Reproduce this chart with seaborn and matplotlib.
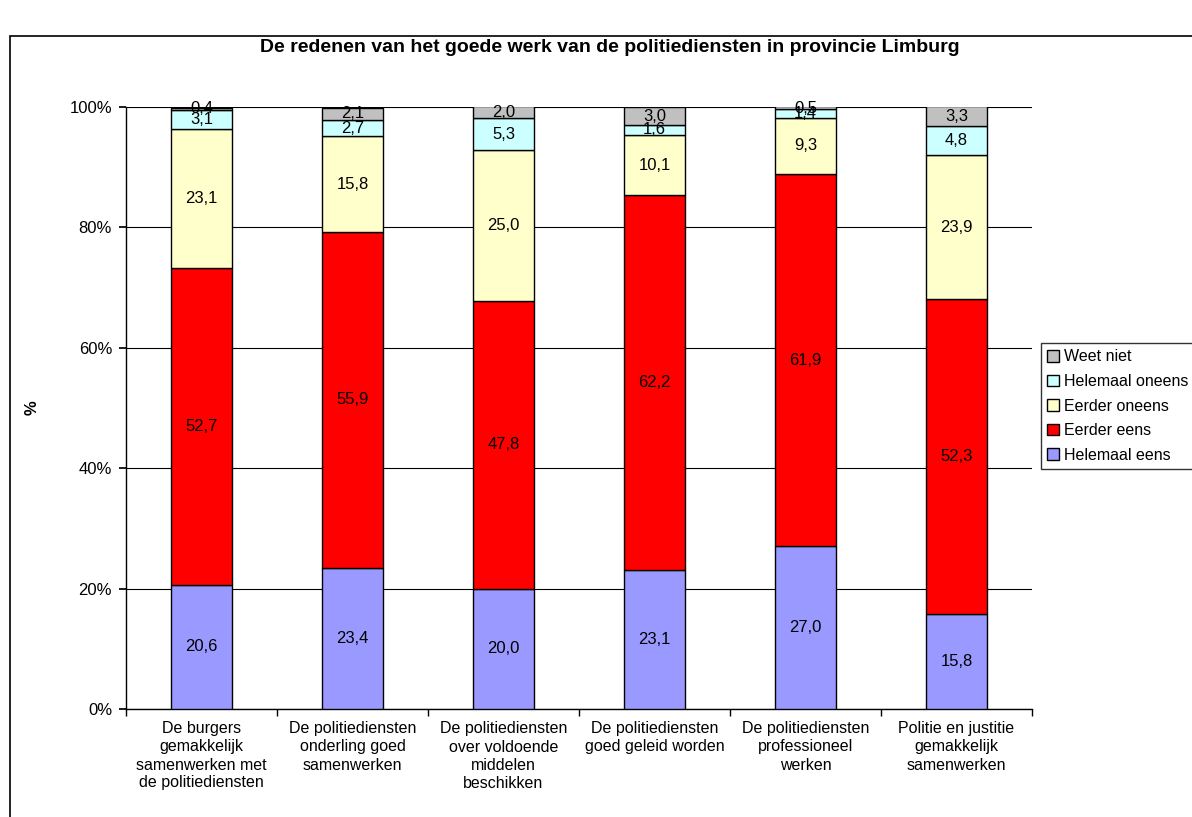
import numpy as np
import pandas as pd
import seaborn as sns
import matplotlib.pyplot as plt
from matplotlib.patches import Rectangle, Patch

categories = [
    "De burgers\ngemakkelijk\nsamenwerken met\nde politiediensten",
    "De politiediensten\nonderling goed\nsamenwerken",
    "De politiediensten\nover voldoende\nmiddelen\nbeschikken",
    "De politiediensten\ngoed geleid worden",
    "De politiediensten\nprofessioneel\nwerken",
    "Politie en justitie\ngemakkelijk\nsamenwerken",
]
helemaal_eens = [20.6, 23.4, 20.0, 23.1, 27.0, 15.8]
eerder_eens = [52.7, 55.9, 47.8, 62.2, 61.9, 52.3]
eerder_oneens = [23.1, 15.8, 25.0, 10.1, 9.3, 23.9]
helemaal_oneens = [3.1, 2.7, 5.3, 1.6, 1.4, 4.8]
weet_niet = [0.4, 2.1, 2.0, 3.0, 0.5, 3.3]

series = [
    ("Helemaal eens", helemaal_eens, "#9999FF"),
    ("Eerder eens", eerder_eens, "#FF0000"),
    ("Eerder oneens", eerder_oneens, "#FFFFCC"),
    ("Helemaal oneens", helemaal_oneens, "#CCFFFF"),
    ("Weet niet", weet_niet, "#C0C0C0"),
]

sns.set_theme(style="white")
plt.rcParams["font.family"] = ["Liberation Sans", "DejaVu Sans"]
plt.rcParams["text.color"] = "black"
plt.rcParams["xtick.color"] = "black"
plt.rcParams["ytick.color"] = "black"
plt.rcParams["axes.labelcolor"] = "black"

fig = plt.figure(figsize=(11.92, 8.17), dpi=100)
ax = fig.add_axes([126 / 1192, 1 - 709 / 817, 906 / 1192, 602 / 817])

# outer chart frame
fig.patches.append(Rectangle((10 / 1192, -0.05), 1.2, 0.05 + 1 - 36 / 817,
                             transform=fig.transFigure, fill=False,
                             edgecolor="black", linewidth=1.2, zorder=0))

bottom = np.zeros(len(categories))
for name, vals, color in series:
    df = pd.DataFrame({"cat": categories, "val": vals})
    sns.barplot(data=df, x="cat", y="val", color=color, bottom=bottom,
                width=0.4, edgecolor="black", linewidth=1, saturation=1,
                ax=ax, zorder=3)
    cont = ax.containers[-1]
    ax.bar_label(cont, labels=[f"{v:.1f}".replace(".", ",") for v in vals],
                 label_type="center", fontsize=12, color="black", zorder=4)
    bottom = bottom + np.array(vals)

ax.set_ylim(0, 100)
ax.set_xlim(-0.5, len(categories) - 0.5)
ax.set_yticks(range(0, 101, 20))
ax.set_yticklabels([f"{v}%" for v in range(0, 101, 20)], fontsize=12)
ax.set_xticklabels(categories, fontsize=11.5, linespacing=1.25)
ax.set_xticks(np.arange(-0.5, len(categories), 1), minor=True)
ax.tick_params(axis="x", which="major", length=0, pad=9)
ax.tick_params(axis="x", which="minor", length=5, color="black", direction="out", bottom=True)
ax.tick_params(axis="y", length=5, color="black", direction="out", left=True, pad=5)
ax.grid(axis="y", color="black", linewidth=0.8, zorder=0)
ax.set_axisbelow(True)
for s in ["top", "right"]:
    ax.spines[s].set_visible(False)
for s in ["left", "bottom"]:
    ax.spines[s].set_color("black")
    ax.spines[s].set_linewidth(1)
ax.set_xlabel("")
ax.set_ylabel("%", fontsize=12, fontweight="bold")
ax.yaxis.set_label_coords(-(126 - 40) / 906, 0.5)

fig.text(610 / 1192, 1 - 47 / 817,
         "De redenen van het goede werk van de politiediensten in provincie Limburg",
         ha="center", va="center", fontsize=14, fontweight="bold", color="black")

handles = [Patch(facecolor=c, edgecolor="black", label=n) for n, v, c in series][::-1]
fig.legend(handles=handles, loc="upper left", bbox_to_anchor=(1041 / 1192, 1 - 343 / 817),
           fontsize=11.5, frameon=True, edgecolor="black", fancybox=False,
           handlelength=0.75, handleheight=0.75, handletextpad=0.3, labelspacing=0.6,
           borderpad=0.4, borderaxespad=0)

fig.savefig("out.png", dpi=100)
